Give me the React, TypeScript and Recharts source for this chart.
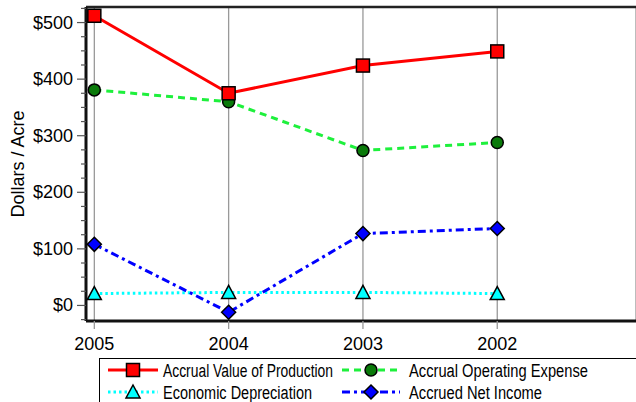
import { LineChart, Line, XAxis, YAxis, CartesianGrid, ReferenceLine, Label } from "recharts";

const years = ["2005", "2004", "2003", "2002"];
const valueOfProduction = [512, 375, 424, 449];
const operatingExpense = [381, 360, 274, 288];
const depreciation = [21, 23, 23, 21];
const netIncome = [108, -12, 127, 136];

const yTicks = [-25, 0, 25, 50, 75, 100, 125, 150, 175, 200, 225, 250, 275, 300, 325, 350, 375, 400, 425, 450, 475, 500, 525];

const data = years.map((year, i) => ({
  idx: i,
  year,
  production: valueOfProduction[i],
  expense: operatingExpense[i],
  depreciation: depreciation[i],
  net: netIncome[i],
}));

const FONT = "'Liberation Sans', Arial, sans-serif";

const RED = "#ff0000";
const GREEN_LINE = "#1ef03c";
const GREEN_DOT = "#0a7a0a";
const CYAN = "#00ffff";
const BLUE = "#0000ff";

function Square({ cx, cy }: { cx: number; cy: number }) {
  return <rect x={cx - 6.5} y={cy - 6.5} width={13} height={13} fill={RED} stroke="#000" strokeWidth={1.5} />;
}
function Circle({ cx, cy }: { cx: number; cy: number }) {
  return <circle cx={cx} cy={cy} r={6} fill={GREEN_DOT} stroke="#000" strokeWidth={1.5} />;
}
function Triangle({ cx, cy }: { cx: number; cy: number }) {
  return (
    <polygon
      points={`${cx},${cy - 7} ${cx + 7},${cy + 6} ${cx - 7},${cy + 6}`}
      fill={CYAN}
      stroke="#000"
      strokeWidth={1.5}
    />
  );
}
function Diamond({ cx, cy }: { cx: number; cy: number }) {
  return (
    <polygon
      points={`${cx},${cy - 7} ${cx + 7},${cy} ${cx},${cy + 7} ${cx - 7},${cy}`}
      fill={BLUE}
      stroke="#000"
      strokeWidth={1.5}
    />
  );
}

const dotFn = (Shape: typeof Square) => (props: any) => {
  if (props.cx == null || props.cy == null) return <g key={props.key} />;
  return <Shape key={props.key} cx={props.cx} cy={props.cy} />;
};

function YTick(props: any) {
  const { x, y, payload } = props;
  const axisX = x + 13;
  const major = payload.value % 100 === 0;
  return (
    <g>
      <line x1={axisX - (major ? 9 : 5)} x2={axisX} y1={y} y2={y} stroke="#555" strokeWidth={1.2} />
      {major && (
        <text x={x} y={y} dy={6} textAnchor="end" fontSize={18} fill="#000" fontFamily={FONT}>
          {`$${payload.value}`}
        </text>
      )}
    </g>
  );
}

function YLabel(props: any) {
  const vb = props.viewBox;
  const x = vb.x + 18;
  const y = vb.y + vb.height / 2;
  return (
    <text x={x} y={y} transform={`rotate(-90, ${x}, ${y})`} textAnchor="middle" dy={6} fontSize={18} fontFamily={FONT} fill="#000">
      Dollars / Acre
    </text>
  );
}

const legendItems = [
  { label: "Accrual Value of Production", color: RED, dash: undefined, shape: "square", x: 0, y: 12, len: 170 },
  { label: "Accrual Operating Expense", color: GREEN_LINE, dash: "7 5", shape: "circle", x: 234, y: 12, len: 179 },
  { label: "Economic Depreciation", color: CYAN, dash: "2.5 3", shape: "triangle", x: 0, y: 34, len: 149 },
  { label: "Accrued Net Income", color: BLUE, dash: "8 4 3 4", shape: "diamond", x: 234, y: 34, len: 133 },
];

function LegendBox() {
  return (
    <div style={{ position: "absolute", left: 99, top: 358, width: 560, height: 60, border: "1.5px solid #000", boxSizing: "border-box" }}>
      <svg width={560} height={60} style={{ position: "absolute", left: -1.5, top: -1.5 }}>
        {legendItems.map((it) => {
          const x0 = it.x + 9;
          const x1 = it.x + (it.x === 0 ? 59 : 67);
          const mx = (x0 + x1) / 2;
          const cy = it.y;
          return (
            <g key={it.label}>
              <line x1={x0} x2={x1} y1={cy} y2={cy} stroke={it.color} strokeWidth={3} strokeDasharray={it.dash} />
              {it.shape === "square" && <Square cx={mx} cy={cy} />}
              {it.shape === "circle" && <Circle cx={mx} cy={cy} />}
              {it.shape === "triangle" && <Triangle cx={mx} cy={cy} />}
              {it.shape === "diamond" && <Diamond cx={mx} cy={cy} />}
              <text
                x={it.x + (it.x === 0 ? 64 : 76)}
                y={cy}
                dy={6.5}
                fontSize={18}
                fontFamily={FONT}
                textLength={it.len}
                lengthAdjust="spacingAndGlyphs"
                fill="#000"
              >
                {it.label}
              </text>
            </g>
          );
        })}
      </svg>
    </div>
  );
}

export default function App() {
  return (
    <div style={{ position: "absolute", left: 0, top: 0, width: 636, height: 402, overflow: "hidden", background: "#fff", fontFamily: FONT }}>
      <LineChart width={636} height={402} data={data} margin={{ top: 7, right: 0, bottom: 51, left: 0 }}>
        <CartesianGrid vertical horizontal={false} stroke="#999" strokeWidth={1.3} />
        <XAxis
          type="number"
          dataKey="idx"
          domain={[-0.062, 4.033]}
          ticks={[0, 1, 2, 3]}
          tickFormatter={(v: number) => years[v] ?? ""}
          allowDataOverflow
          height={30}
          axisLine={{ stroke: "#111", strokeWidth: 3 }}
          tickLine={{ stroke: "#999", strokeWidth: 1.3 }}
          tickSize={8}
          tickMargin={8}
          tick={{ fill: "#000", fontSize: 18, fontFamily: FONT }}
        />
        <YAxis
          type="number"
          domain={[-27.5, 527.5]}
          ticks={yTicks}
          interval={0}
          allowDataOverflow
          width={86}
          axisLine={{ stroke: "#111", strokeWidth: 3 }}
          tickLine={false}
          tickSize={9}
          tickMargin={4}
          tick={<YTick />}
        >
          <Label content={<YLabel />} />
        </YAxis>
        <ReferenceLine y={527.5} stroke="#222" strokeWidth={2.5} />
        <Line dataKey="depreciation" stroke={CYAN} strokeWidth={3} strokeDasharray="2.5 3" dot={dotFn(Triangle)} isAnimationActive={false} />
        <Line dataKey="net" stroke={BLUE} strokeWidth={3} strokeDasharray="8 4 3 4" dot={dotFn(Diamond)} isAnimationActive={false} />
        <Line dataKey="expense" stroke={GREEN_LINE} strokeWidth={3} strokeDasharray="7 5" dot={dotFn(Circle)} isAnimationActive={false} />
        <Line dataKey="production" stroke={RED} strokeWidth={3} dot={dotFn(Square)} isAnimationActive={false} />
      </LineChart>
      <LegendBox />
    </div>
  );
}
